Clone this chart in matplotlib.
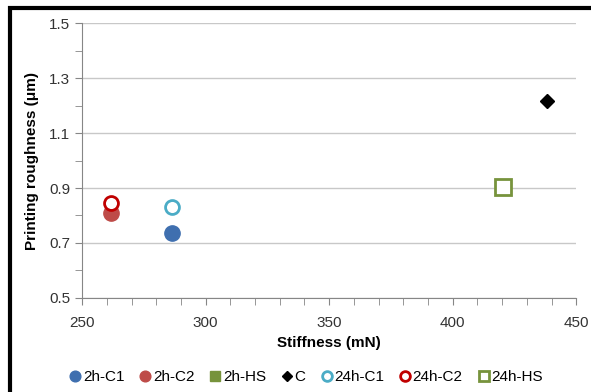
import matplotlib.pyplot as plt
from matplotlib.patches import Rectangle
from matplotlib.ticker import MultipleLocator

plt.rcParams['font.family'] = ['Liberation Sans', 'DejaVu Sans']

# series: name, stiffness (mN), roughness (um)
names = ['2h-C1', '2h-C2', '2h-HS', 'C', '24h-C1', '24h-C2', '24h-HS']
stiffness = [[286.5], [261.5], [], [438.0], [286.5], [261.5], [420.5]]
roughness = [[0.735], [0.808], [], [1.215], [0.832], [0.845], [0.903]]

markers = ['o', 'o', 's', 'D', 'o', 'o', 's']
edge_cols = ['#3F6FAF', '#BE4B48', '#77933C', 'black', '#4BACC6', '#C00000', '#77933C']
face_cols = ['#3F6FAF', '#BE4B48', '#77933C', 'black', 'white', 'white', 'white']
sizes = [11, 11, 11, 7.5, 10, 10, 11]

fig = plt.figure(figsize=(5.91, 3.92), dpi=100)
ax = fig.add_axes([0.139, 0.240, 0.836, 0.701])

for i, n in enumerate(names):
    ax.plot(stiffness[i], roughness[i], linestyle='none', marker=markers[i],
            markersize=sizes[i], markerfacecolor=face_cols[i],
            markeredgecolor=edge_cols[i], markeredgewidth=2 if face_cols[i] == 'white' else 1,
            label=n, zorder=3)

ax.set_xlim(250, 450)
ax.set_ylim(0.5, 1.5)
ax.xaxis.set_major_locator(MultipleLocator(50))
ax.xaxis.set_minor_locator(MultipleLocator(10))
ax.yaxis.set_minor_locator(MultipleLocator(0.1))
ax.set_yticks([0.5, 0.7, 0.9, 1.1, 1.3, 1.5])
ax.set_yticklabels(['0.5', '0.7', '0.9', '1.1', '1.3', '1.5'])
ax.grid(axis='y', which='major', color='#C8C8C8', linewidth=1)
ax.set_axisbelow(True)

for s in ['top', 'right']:
    ax.spines[s].set_visible(False)
for s in ['left', 'bottom']:
    ax.spines[s].set_color('#868686')
ax.tick_params(which='both', direction='out', color='#868686', labelsize=11, labelcolor='#333333')
ax.tick_params(which='major', length=5)
ax.tick_params(which='minor', length=5)
ax.tick_params(axis='x', pad=8)

ax.set_xlabel('Stiffness (mN)', fontsize=11, fontweight='bold', labelpad=4)
ax.set_ylabel('Printing roughness (μm)', fontsize=11, fontweight='bold', labelpad=7)

leg = fig.legend(*ax.get_legend_handles_labels(), loc='center', bbox_to_anchor=(0.519, 0.038),
                 ncol=7, frameon=False, fontsize=11, handlelength=0.6, handletextpad=0.2,
                 columnspacing=1.07, markerscale=0.7)

fig.patches.append(Rectangle((0.017, -0.1), 1.2, 1.08, transform=fig.transFigure,
                             fill=False, edgecolor='black', linewidth=3))

fig.savefig('out.png', dpi=100)
